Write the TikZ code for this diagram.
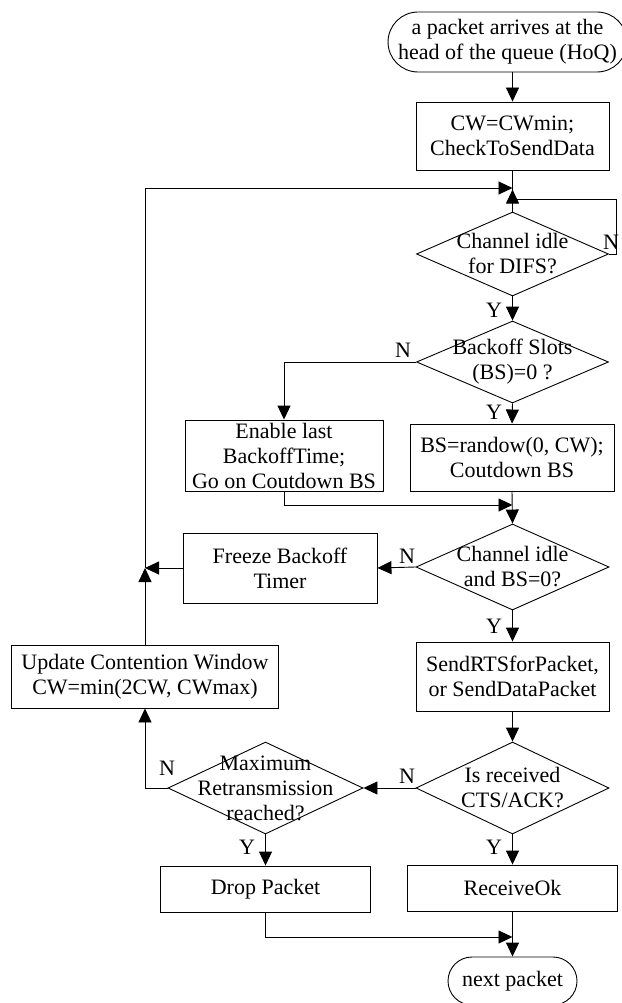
\documentclass[tikz,border=0pt]{standalone}
\usepackage{fontspec}
\setmainfont{Liberation Serif}
\usetikzlibrary{arrows.meta,shapes.geometric,shapes.misc}
\begin{document}
\begin{tikzpicture}[x=1pt,y=-1pt,
  every node/.style={font=\fontsize{22}{25}\selectfont},
  proc/.style={draw, rectangle, inner sep=0pt, align=center},
  term/.style={draw, rounded rectangle, inner sep=0pt, align=center},
  dec/.style={draw, diamond, inner sep=0pt},
  txt/.style={align=center, inner sep=0pt},
  lbl/.style={inner sep=0pt},
  arr/.style={-{Triangle[length=14pt,width=13pt]}},
  line width=0.9pt]

\fill[white] (0,0) rectangle (621,1003);
\useasboundingbox (0,0) rectangle (621,1003);

% main column
\node[term, minimum width=224pt, minimum height=60pt] (start) at (507.5,42) {a packet arrives at the\\head of the queue (HoQ)};
\node[proc, minimum width=193pt, minimum height=68pt] (cw) at (512.5,136) {CW=CWmin;\\CheckToSendData};
\node[dec, minimum width=192pt, minimum height=84pt] (difs) at (512.5,254) {};
\node[txt] at (difs) {Channel idle\\for DIFS?};
\node[dec, minimum width=192pt, minimum height=82pt] (bo) at (512.5,362) {};
\node[txt] at (bo) {Backoff Slots\\(BS)=0 ?};
\node[proc, minimum width=204pt, minimum height=67pt] (bs) at (512,457.5) {BS=randow(0, CW);\\Coutdown BS};
\node[proc, minimum width=198pt, minimum height=71pt] (en) at (284,455.5) {Enable last\\BackoffTime;\\Go on Coutdown BS};
\node[dec, minimum width=193pt, minimum height=86pt] (cb) at (512.5,567) {};
\node[txt] at (cb) {Channel idle\\and BS=0?};
\node[proc, minimum width=194pt, minimum height=70pt] (fr) at (280,568) {Freeze Backoff\\Timer};
\node[proc, minimum width=193pt, minimum height=69pt] (rts) at (512.5,676.5) {SendRTSforPacket,\\or SendDataPacket};
\node[proc, minimum width=267pt, minimum height=63pt] (up) at (145,676.5) {Update Contention Window\\CW=min(2CW, CWmax)};
\node[dec, minimum width=193pt, minimum height=92pt] (rx) at (512.5,788) {};
\node[txt] at (rx) {Is received\\CTS/ACK?};
\node[dec, minimum width=195pt, minimum height=92pt] (mx) at (265.5,788) {};
\node[txt] at (mx) {Maximum\\Retransmission\\reached?};
\node[proc, minimum width=210pt, minimum height=46pt] (drop) at (265.5,889) {Drop Packet};
\node[proc, minimum width=210pt, minimum height=46pt] (ok) at (512.5,888) {ReceiveOk};
\node[term, minimum width=129pt, minimum height=48pt] (next) at (512.5,981) {next packet};

% junction points
\coordinate (j1) at (512.5,188);
\coordinate (j2) at (512.5,199);
\coordinate (j3) at (512.5,505);
\coordinate (j4) at (512.5,937);
\coordinate (ret) at (145,568);

% connectors
\draw[arr] (cw.north |- start.south) -- (cw.north);
\draw (cw.south) -- (difs.north);
\draw[arr] (difs.north) -- ++(0,-22);
\draw (difs.east) -- ++(7,0) |- (j2);
\node[lbl] at (611,242) {N};

\draw[arr] (difs.south) -- (bo.north);
\node[lbl] at (494,310) {Y};
\draw[arr] (bo.west) -| (en.north);
\node[lbl] at (403,350) {N};
\draw[arr] (bo.south) -- (bs.north);
\node[lbl] at (494,412) {Y};

\draw[arr] (en.south) |- (j3);
\draw[arr] (bs.south) -- (cb.north);
\draw[arr] (cb.west) -- (fr.east);
\node[lbl] at (407,556) {N};
\draw[arr] (fr.west) -- (ret);
\draw[arr] (cb.south) -- (rts.north);
\node[lbl] at (494,626) {Y};
\draw[arr] (rts.south) -- (rx.north);

\draw[arr] (rx.west) -- (mx.east);
\node[lbl] at (407,776) {N};
\draw[arr] (mx.west) -| (up.south);
\node[lbl] at (167,768) {N};
\draw[arr] (up.north) -- (ret);
\draw[arr] (ret) |- (j1);

\draw[arr] (mx.south) -- (drop.north);
\node[lbl] at (247,847) {Y};
\draw[arr] (rx.south) -- (ok.north);
\node[lbl] at (494,847) {Y};
\draw[arr] (drop.south) |- (j4);
\draw[arr] (ok.south) -- (next.north);
\end{tikzpicture}
\end{document}
